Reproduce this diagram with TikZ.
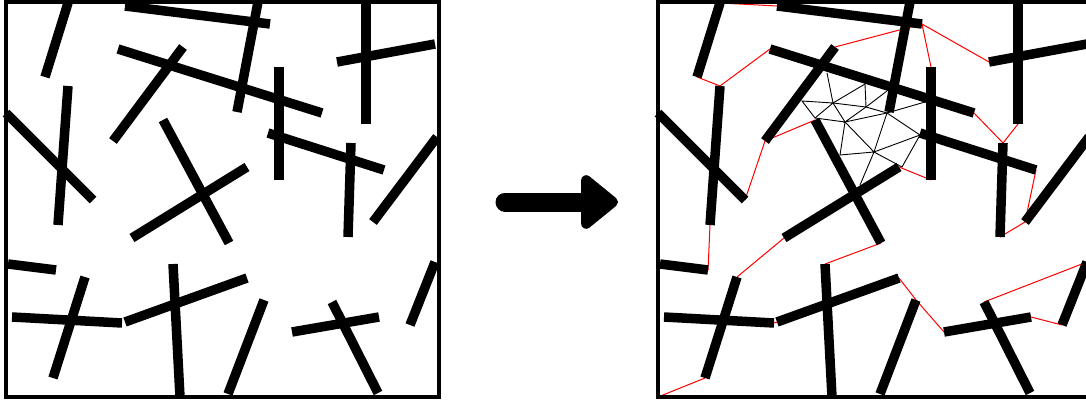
\documentclass[tikz,border=0pt]{standalone}
\usetikzlibrary{arrows.meta}

\tikzset{
  stick/.style={line width=9.5pt, line cap=butt},
  frame/.style={line width=3.5pt},
  hull/.style={red, line width=1pt},
  mesh/.style={black, line width=0.9pt},
}

% name/x1/y1/x2/y2 of every stick, in pixels from the top left corner
\newcommand\sticklist{A/68/3/45/77, B/125/6/270/24, C/118/49/322/113,
  D/183/47/113/141, E/68/86/58/225, F/6/113/93/200, G/163/120/229/243,
  H/132/238/247/167, I/258/2/237/112, J/279/67/279/180, K/268/133/384/170,
  L/351/143/348/237, M/366/3/366/124, N/337/62/435/44, O/437/137/373/222,
  P/8/264/56/270, Q/85/277/53/378, R/12/317/122/323, S/125/322/247/278,
  T/173/264/180/397, U/264/300/228/394, V/292/332/379/317,
  W/332/302/378/393, X/435/262/410/325}

\begin{document}
\begin{tikzpicture}[x=1pt,y=-1pt]
  \useasboundingbox (0,0) rectangle (1086,404);
  \clip (0,0) rectangle (1086,404);

  % left panel: the sticks alone
  \draw[frame] (6,2) rectangle (439,397);
  \foreach \n/\ax/\ay/\bx/\by in \sticklist
    \draw[stick] (\ax,\ay) -- (\bx,\by);

  % the arrow between the panels
  \coordinate (tail) at (505,202);
  \coordinate (tip) at (618,202);
  \draw[line width=19pt, line cap=round, -{Triangle[round,length=40pt,width=62pt]}] (tail) -- (tip);

  % right panel: same sticks, shifted
  \begin{scope}[xshift=652pt]
    \foreach \n/\ax/\ay/\bx/\by in \sticklist {
      \coordinate (r\n1) at (\ax,\ay);
      \coordinate (r\n2) at (\bx,\by);
    }
    \coordinate (rcorner) at (6,397);

    % mesh points in the free space in the middle
    \coordinate (m1) at (150,101);
    \coordinate (m2) at (175,73);
    \coordinate (m3) at (181,103);
    \coordinate (m4) at (163,118);
    \coordinate (m5) at (193,122);
    \coordinate (m6) at (213,84);
    \coordinate (m7) at (214,107);
    \coordinate (m8) at (235,91);
    \coordinate (m9) at (235,113);
    \coordinate (m10) at (273,102);
    \coordinate (m11) at (222,152);
    \coordinate (m12) at (268,135);
    \coordinate (m13) at (188,155);
    \coordinate (m14) at (250,167);
    \coordinate (m15) at (208,185);
  \end{scope}

  % red links between stick ends
  \draw[hull] (rA1) -- (rB1);
  \draw[hull] (rA2) -- (rE1) -- (rC1);
  \draw[hull] (rD1) -- (rB2) -- (rJ1);
  \draw[hull] (rB2) -- (rN1);
  \draw[hull] (rC2) -- (rL1) -- (rM2);
  \draw[hull] (rK2) -- (rO2) -- (rL2);
  \draw[hull] (rH2) -- (rJ2);
  \draw[hull] (rG1) -- (rD2) -- (rF2);
  \draw[hull] (rE2) -- (rP2);
  \draw[hull] (rQ1) -- (rH1);
  \draw[hull] (rR2) -- (rS1);
  \draw[hull] (rcorner) -- (rQ2);
  \draw[hull] (rT1) -- (rG2);
  \draw[hull] (rS2) -- (rU1) -- (rV1);
  \draw[hull] (rW1) -- (rX1);
  \draw[hull] (rV2) -- (rX2);

  % triangles of the mesh
  \draw[mesh] (m1) -- (m3) -- (m4) -- cycle;
  \draw[mesh] (m2) -- (m3) -- (m6);
  \draw[mesh] (m3) -- (m7) -- (m6);
  \draw[mesh] (m3) -- (m5) -- (m4);
  \draw[mesh] (m5) -- (m7) -- (m9) -- cycle;
  \draw[mesh] (m7) -- (m8);
  \draw[mesh] (m9) -- (m10);
  \draw[mesh] (m9) -- (m12) -- (m11) -- cycle;
  \draw[mesh] (m5) -- (m11) -- (m13) -- cycle;
  \draw[mesh] (m11) -- (m14) -- (m12);
  \draw[mesh] (m11) -- (m15);

  \begin{scope}[xshift=652pt]
    \foreach \n/\ax/\ay/\bx/\by in \sticklist
      \draw[stick] (r\n1) -- (r\n2);
    \draw[frame] (6,2) rectangle (439,397);
  \end{scope}
\end{tikzpicture}
\end{document}
